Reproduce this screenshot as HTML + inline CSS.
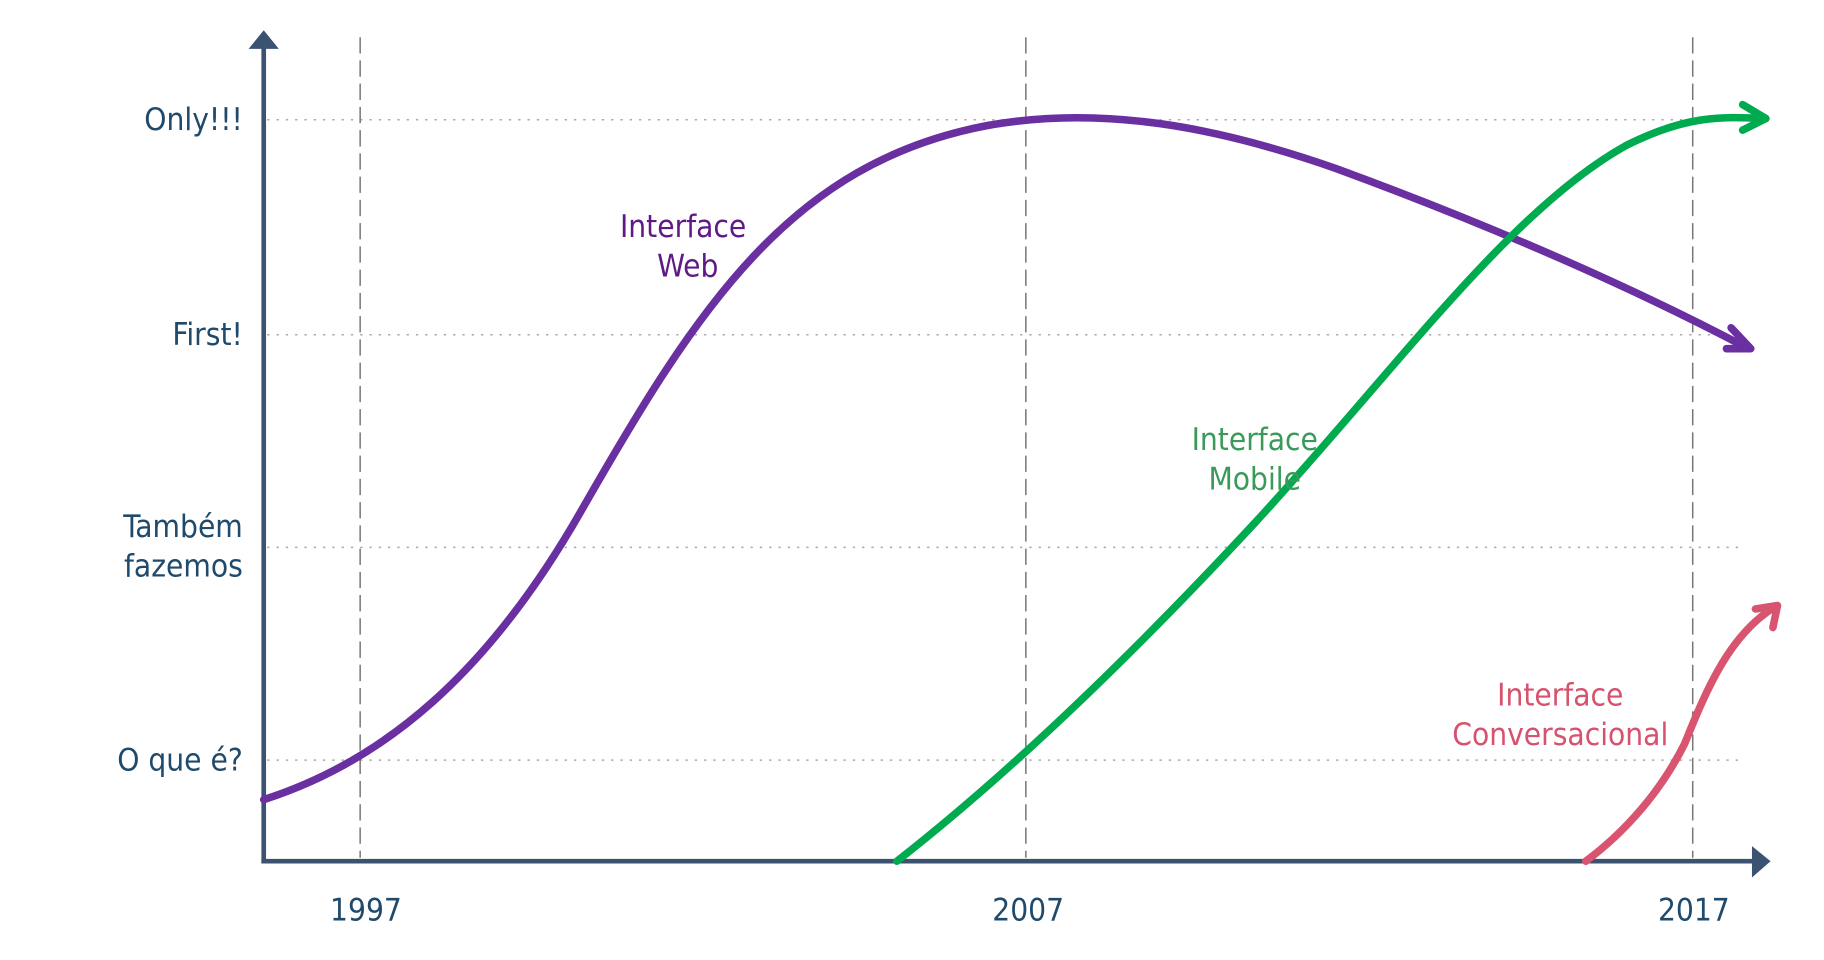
<!DOCTYPE html>
<html><head><style>html,body{margin:0;padding:0;background:#fff;}svg{display:block}</style></head>
<body>
<svg width="1824" height="960" viewBox="0 0 1570 826" preserveAspectRatio="none" xmlns="http://www.w3.org/2000/svg" font-family="DejaVu Sans Condensed, DejaVu Sans, Liberation Sans, sans-serif" font-size="27">
<g stroke="#aaa" stroke-width="1.3" stroke-dasharray="2,6">
<line x1="230" y1="103" x2="1500" y2="103"/>
<line x1="230" y1="288" x2="1500" y2="288"/>
<line x1="230" y1="471" x2="1500" y2="471"/>
<line x1="230" y1="654" x2="1500" y2="654"/>
</g>
<g stroke="#777" stroke-width="1.3" stroke-dasharray="14,6">
<line x1="310" y1="32" x2="310" y2="738"/>
<line x1="883" y1="32" x2="883" y2="738"/>
<line x1="1457" y1="32" x2="1457" y2="738"/>
</g>
<g stroke="#3b5370" stroke-width="4" fill="none">
<line x1="227" y1="40" x2="227" y2="743"/>
<line x1="225" y1="741" x2="1512" y2="741"/>
</g>
<polygon points="214,42 227,26 240,42" fill="#3b5370"/>
<polygon points="1508,728 1524,741 1508,755" fill="#3b5370"/>
<g fill="none" stroke-width="6.5" stroke-linecap="round" stroke-linejoin="round">
<path d="M227,688 C330,655 420,580 500,440 C600,265 680,140 850,108 C950,90 1050,110 1150,145 C1300,200 1420,255 1505,300" stroke="#6a2fa0"/>
<path d="M1490,282 L1507,300 L1486,300" stroke="#6a2fa0"/>
<path d="M772,741 C850,680 950,590 1080,450 C1200,320 1300,180 1400,125 C1450,100 1480,100 1518,102" stroke="#00aa4f"/>
<path d="M1500,90 L1520,102 L1500,112" stroke="#00aa4f"/>
<path d="M1365,741 C1400,715 1430,680 1450,640 C1470,590 1490,545 1528,522" stroke="#d9546e"/>
<path d="M1511,524 L1530,521 L1526,540" stroke="#d9546e"/>
</g>
<g fill="#1f4a6b" text-anchor="end">
<text x="209" y="112">Only!!!</text>
<text x="209" y="297">First!</text>
<text x="209" y="462">Também</text>
<text x="209" y="496">fazemos</text>
<text x="209" y="663">O que é?</text>
</g>
<g fill="#1f4a6b" text-anchor="middle">
<text x="315" y="792">1997</text>
<text x="885" y="792">2007</text>
<text x="1458" y="792">2017</text>
</g>
<g text-anchor="middle">
<text x="588" y="204" fill="#5f1a87">Interface</text>
<text x="592" y="238" fill="#5f1a87">Web</text>
<text x="1080" y="387" fill="#3a9a5a">Interface</text>
<text x="1080" y="421" fill="#3a9a5a">Mobile</text>
<text x="1343" y="607" fill="#d6526e">Interface</text>
<text x="1343" y="641" fill="#d6526e">Conversacional</text>
</g>
</svg>
</body></html>
